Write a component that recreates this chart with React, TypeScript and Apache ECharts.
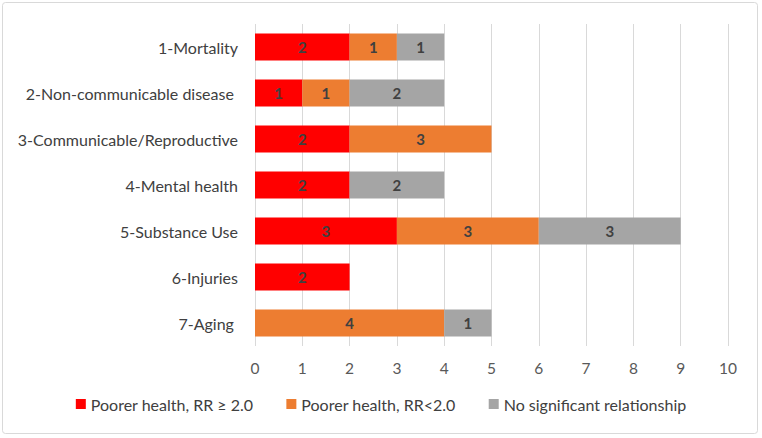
import React, { useEffect, useRef } from "react";
import * as echarts from "echarts";

const categories = [
  "1-Mortality",
  "2-Non-communicable disease ",
  "3-Communicable/Reproductive",
  "4-Mental health",
  "5-Substance Use",
  "6-Injuries",
  "7-Aging ",
];
const seriesNames = [
  "Poorer health, RR \u2265 2.0",
  "Poorer health, RR<2.0",
  "No significant relationship",
];
const strongValues = [2, 1, 2, 2, 3, 2, null];
const weakValues = [1, 1, 3, null, 3, null, 4];
const noneValues = [1, 2, null, 2, 3, null, 1];
const xTicks = { min: 0, max: 10, interval: 1 };

const colors = ["#FF0000", "#ED7D31", "#A5A5A5"];
const FONT = "Lato";

export default function App() {
  const ref = useRef<HTMLDivElement>(null);
  useEffect(() => {
    document.body.style.margin = "0";
    const chart = echarts.init(ref.current!, null, { renderer: "svg" });
    const dataSets = [strongValues, weakValues, noneValues];
    chart.setOption({
      animation: false,
      textStyle: { fontFamily: FONT },
      graphic: [
        {
          type: "rect",
          shape: { x: 2.5, y: 2.5, width: 755, height: 431, r: 3 },
          style: { fill: "none", stroke: "#D9D9D9", lineWidth: 1 },
          silent: true,
        },
      ],
      grid: { left: 255, right: 34, top: 24, bottom: 92 },
      legend: {
        bottom: 21,
        left: "center",
        itemWidth: 10,
        itemHeight: 10,
        itemGap: 33,
        icon: "rect",
        textStyle: { fontFamily: FONT, fontSize: 16, color: "#404040" },
        data: seriesNames,
      },
      xAxis: {
        type: "value",
        min: xTicks.min,
        max: xTicks.max,
        interval: xTicks.interval,
        axisLine: { show: false },
        axisTick: { show: false },
        splitLine: { lineStyle: { color: "#D9D9D9", width: 1 } },
        axisLabel: { fontFamily: FONT, fontSize: 15.5, color: "#595959", margin: 14 },
      },
      yAxis: {
        type: "category",
        data: categories,
        inverse: true,
        axisLine: { show: false },
        axisTick: { show: false },
        axisLabel: { fontFamily: FONT, fontSize: 16, color: "#404040", margin: 17 },
      },
      series: seriesNames.map((name, i) => ({
        name,
        type: "bar",
        stack: "total",
        barWidth: 27,
        data: dataSets[i],
        itemStyle: { color: colors[i] },
        label: {
          show: true,
          position: "inside",
          fontFamily: FONT,
          fontSize: 15,
          fontWeight: "bold",
          color: "#404040",
        },
      })),
    });
    return () => chart.dispose();
  }, []);
  return <div ref={ref} style={{ width: 762, height: 438 }} />;
}
